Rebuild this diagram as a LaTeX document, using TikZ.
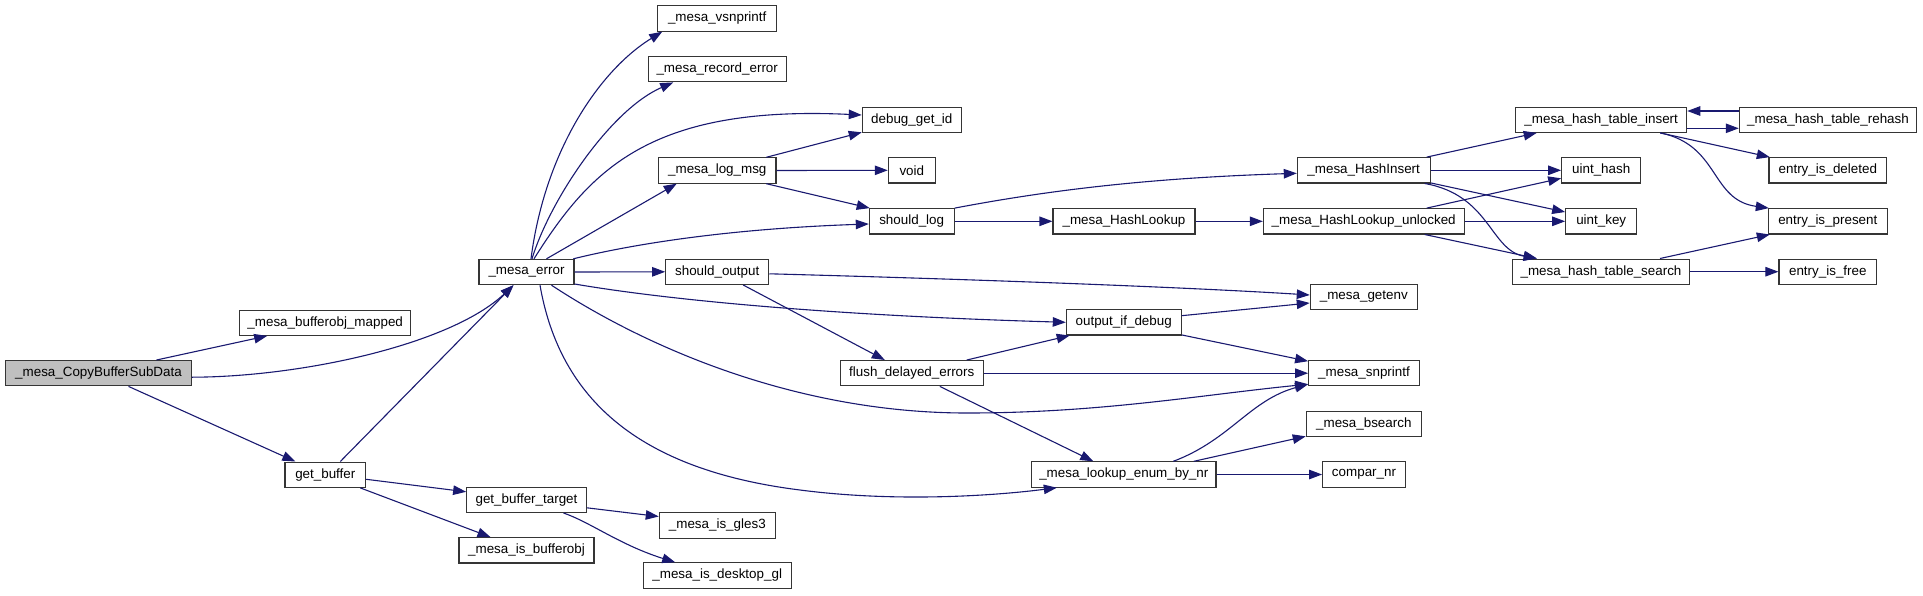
\documentclass[tikz,border=0pt]{standalone}
\usepackage{fontspec}
\setmainfont{Liberation Sans}
\usetikzlibrary{arrows.meta}
\definecolor{edgec}{HTML}{191970}
\definecolor{boxc}{HTML}{353535}
\begin{document}
\begin{tikzpicture}[x=1pt,y=-1pt,
  fn/.style={draw=boxc, line width=1.1pt, fill=white, inner sep=0pt, minimum height=25.3pt, font=\fontsize{13.4}{15}\selectfont},
  call/.style={draw=edgec, line width=1.1pt, -{Triangle[length=13pt,width=9.5pt]}}]
\useasboundingbox (0,0) rectangle (1923,595);
% nodes
\node[fn,fill=gray!50,minimum width=185.6pt] (copy) at (98.5,373.2) {\_mesa\_CopyBufferSubData};
\node[fn,minimum width=171pt] (bufmapped) at (325.2,322.7) {\_mesa\_bufferobj\_mapped};
\node[fn,minimum width=80.7pt] (getbuf) at (325.3,474.7) {get\_buffer};
\node[fn,minimum width=95pt] (mesaerror) at (526.5,272) {\_mesa\_error};
\node[fn,minimum width=119.6pt] (gbt) at (526.5,499.8) {get\_buffer\_target};
\node[fn,minimum width=135pt] (isbufobj) at (526.5,550.3) {\_mesa\_is\_bufferobj};
\node[fn,minimum width=119pt] (vsnprintf) at (717.2,18.5) {\_mesa\_vsnprintf};
\node[fn,minimum width=137.7pt] (recerr) at (717.2,69.2) {\_mesa\_record\_error};
\node[fn,minimum width=117.3pt] (logmsg) at (717.3,170.5) {\_mesa\_log\_msg};
\node[fn,minimum width=103pt] (shouldout) at (717.2,271.8) {should\_output};
\node[fn,minimum width=116pt] (gles3) at (717.3,525.5) {\_mesa\_is\_gles3};
\node[fn,minimum width=148.3pt] (desktopgl) at (717.2,575.5) {\_mesa\_is\_desktop\_gl};
\node[fn,minimum width=99pt] (debugid) at (911.8,119.7) {debug\_get\_id};
\node[fn,minimum width=47pt] (void) at (911.8,170.3) {void};
\node[fn,minimum width=84.7pt] (shouldlog) at (911.7,221.3) {should\_log};
\node[fn,minimum width=143pt] (flush) at (911.8,373.2) {flush\_delayed\_errors};
\node[fn,minimum width=142pt] (hashlookup) at (1124,221.3) {\_mesa\_HashLookup};
\node[fn,minimum width=114.7pt] (outdbg) at (1123.7,322.3) {output\_if\_debug};
\node[fn,minimum width=184.3pt] (lookupenum) at (1123.8,474.5) {\_mesa\_lookup\_enum\_by\_nr};
\node[fn,minimum width=132.7pt] (hashinsert) at (1363.7,170.3) {\_mesa\_HashInsert};
\node[fn,minimum width=200.7pt] (hlu) at (1363.7,221.3) {\_mesa\_HashLookup\_unlocked};
\node[fn,minimum width=107pt] (getenv) at (1363.8,297) {\_mesa\_getenv};
\node[fn,minimum width=110.7pt] (snprintf) at (1364,373.2) {\_mesa\_snprintf};
\node[fn,minimum width=115pt] (bsearch) at (1363.8,423.8) {\_mesa\_bsearch};
\node[fn,minimum width=82.7pt] (comparnr) at (1364,474.5) {compar\_nr};
\node[fn,minimum width=171pt] (hti) at (1601.2,119.7) {\_mesa\_hash\_table\_insert};
\node[fn,minimum width=79pt] (uinthash) at (1601.2,170.3) {uint\_hash};
\node[fn,minimum width=71pt] (uintkey) at (1601.2,221.3) {uint\_key};
\node[fn,minimum width=177.4pt] (hts) at (1601,271.7) {\_mesa\_hash\_table\_search};
\node[fn,minimum width=177.4pt] (rehash) at (1828,119.7) {\_mesa\_hash\_table\_rehash};
\node[fn,minimum width=117.7pt] (deleted) at (1827.8,170.3) {entry\_is\_deleted};
\node[fn,minimum width=119pt] (present) at (1827.8,221.3) {entry\_is\_present};
\node[fn,minimum width=97.7pt] (free) at (1827.8,271.7) {entry\_is\_free};
% edges
\draw[call] ([xshift=58pt]copy.north) -- ([xshift=-58pt]bufmapped.south);
\draw[call] ([yshift=-4pt]copy.east) .. controls (300,377) and (450,345) .. ([xshift=-13pt]mesaerror.south);
\draw[call] ([xshift=30pt]copy.south) -- ([xshift=-30pt]getbuf.north);
\draw[call] ([xshift=15pt]getbuf.north) -- ([xshift=-13pt]mesaerror.south);
\draw[call] ([yshift=-4.6pt]getbuf.east) -- ([yshift=8pt]gbt.west);
\draw[call] ([xshift=35pt]getbuf.south) -- ([xshift=-36pt]isbufobj.north);
\draw[call] ([yshift=-8pt]gbt.east) -- ([yshift=9pt]gles3.west);
\draw[call] ([xshift=37pt]gbt.south) .. controls (590,522) and (620,545) .. ([xshift=-42pt]desktopgl.north);
\draw[call] ([xshift=4.5pt]mesaerror.north) .. controls (545,150) and (600,70) .. ([xshift=-55pt]vsnprintf.south);
\draw[call] ([xshift=5.5pt]mesaerror.north) .. controls (550,200) and (610,110) .. ([xshift=-44pt]recerr.south);
\draw[call] ([xshift=7.5pt]mesaerror.north) .. controls (590,170) and (650,105) .. ([yshift=4.7pt]debugid.west);
\draw[call] ([xshift=20pt]mesaerror.north) -- ([xshift=-40.6pt]logmsg.south);
\draw[call] ([xshift=46.8pt]mesaerror.north) .. controls (650,240) and (750,228) .. ([yshift=-2.7pt]shouldlog.west);
\draw[call] (mesaerror.east) -- (shouldout.west);
\draw[call] ([yshift=-12pt]mesaerror.east) .. controls (680,302) and (850,316) .. (outdbg.west);
\draw[call] ([xshift=25pt]mesaerror.south) .. controls (650,350) and (800,413) .. (967,413) .. controls (1100,413) and (1200,395) .. ([yshift=-11pt]snprintf.west);
\draw[call] ([xshift=13.5pt]mesaerror.south) .. controls (560,400) and (640,470) .. (800,490) .. controls (900,503) and (1000,495) .. ([xshift=-67pt]lookupenum.south);
\draw[call] ([xshift=49pt]logmsg.north) -- ([yshift=-12.6pt]debugid.west);
\draw[call] (logmsg.east) -- (void.west);
\draw[call] ([xshift=49pt]logmsg.south) -- ([xshift=-42pt]shouldlog.north);
\draw[call] ([yshift=-2pt]shouldout.east) .. controls (1000,280) and (1200,288) .. ([yshift=2pt]getenv.west);
\draw[call] ([xshift=26pt]shouldout.south) -- ([xshift=-27pt]flush.north);
\draw[call] ([xshift=55pt]flush.north) -- ([xshift=-54pt]outdbg.south);
\draw[call] (flush.east) -- (snprintf.west);
\draw[call] ([xshift=28pt]flush.south) -- ([xshift=-30.5pt]lookupenum.north);
\draw[call] ([yshift=6.6pt]outdbg.east) -- ([yshift=-6pt]getenv.west);
\draw[call] ([yshift=-12.6pt]outdbg.east) -- ([yshift=12pt]snprintf.west);
\draw[call] ([xshift=49.5pt]lookupenum.north) .. controls (1230,440) and (1250,400) .. ([yshift=-11pt]snprintf.west);
\draw[call] ([xshift=70pt]lookupenum.north) -- ([yshift=-12.5pt]bsearch.west);
\draw[call] (lookupenum.east) -- (comparnr.west);
\draw[call] ([xshift=43pt]shouldlog.north) .. controls (1050,190) and (1150,178) .. ([yshift=-3pt]hashinsert.west);
\draw[call] (shouldlog.east) -- (hashlookup.west);
\draw[call] (hashlookup.east) -- (hlu.west);
\draw[call] ([xshift=63pt]hashinsert.north) -- ([xshift=-64.5pt]hti.south);
\draw[call] (hashinsert.east) -- (uinthash.west);
\draw[call] ([yshift=-12.6pt]hashinsert.east) -- ([yshift=9.3pt]uintkey.west);
\draw[call] ([xshift=61pt]hashinsert.south) .. controls (1490,195) and (1490,250) .. ([xshift=-64.5pt]hts.north);
\draw[call] ([xshift=63pt]hlu.north) -- ([yshift=-8pt]uinthash.west);
\draw[call] (hlu.east) -- (uintkey.west);
\draw[call] ([xshift=61pt]hlu.south) -- ([xshift=-64pt]hts.north);
\draw[call] ([yshift=-8.6pt]hti.east) -- ([yshift=-8.6pt]rehash.west);
\draw[call] ([yshift=8.7pt]rehash.west) -- ([yshift=8.7pt]hti.east);
\draw[call] ([xshift=59pt]hti.south) -- ([xshift=-58pt]deleted.north);
\draw[call] ([xshift=59pt]hti.south) .. controls (1720,145) and (1710,200) .. ([xshift=-59pt]present.north);
\draw[call] ([xshift=59pt]hts.north) -- ([xshift=-58pt]present.south);
\draw[call] (hts.east) -- (free.west);
\end{tikzpicture}
\end{document}
